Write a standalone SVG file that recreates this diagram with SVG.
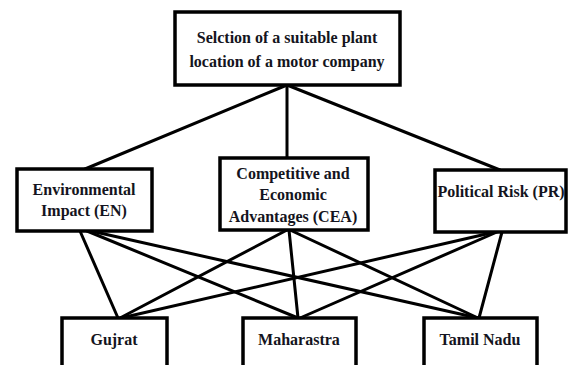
<svg xmlns="http://www.w3.org/2000/svg" width="571" height="365" viewBox="0 0 571 365">
<style>
.box{fill:#fff;stroke:#000;stroke-width:3.5}
.t{font-family:"Liberation Serif","Times New Roman",serif;font-weight:bold;font-size:16px;fill:#141420;text-anchor:middle}
.c line{stroke:#000;stroke-width:3;stroke-linecap:round}
</style>
<rect width="571" height="365" fill="#fff"/>
<g id="connectors" class="c">
<line x1="287" y1="85" x2="85" y2="169"/>
<line x1="287" y1="85" x2="287" y2="158"/>
<line x1="287" y1="85" x2="500" y2="170"/>
<line x1="80" y1="231" x2="118" y2="318"/>
<line x1="87" y1="231" x2="298" y2="318"/>
<line x1="91" y1="231" x2="478" y2="318"/>
<line x1="287" y1="230" x2="120" y2="318"/>
<line x1="289" y1="230" x2="298" y2="318"/>
<line x1="290" y1="230" x2="478" y2="318"/>
<line x1="495" y1="232" x2="121" y2="318"/>
<line x1="497" y1="232" x2="300" y2="318"/>
<line x1="502" y1="232" x2="479" y2="318"/>
</g>
<g id="goal">
<rect class="box" x="175" y="12" width="225" height="73"/>
<text class="t" x="287" y="43">Selction of a suitable plant</text>
<text class="t" x="287" y="67">location of a motor company</text>
</g>
<g id="en">
<rect class="box" x="17" y="169" width="135" height="62"/>
<text class="t" x="84" y="195">Environmental</text>
<text class="t" x="84" y="216">Impact (EN)</text>
</g>
<g id="cea">
<rect class="box" x="220" y="158" width="148" height="72"/>
<text class="t" x="293" y="179">Competitive and</text>
<text class="t" x="293" y="200">Economic</text>
<text class="t" x="293" y="222">Advantages (CEA)</text>
</g>
<g id="pr">
<rect class="box" x="435" y="170" width="131" height="62"/>
<text class="t" x="501" y="197">Political Risk (PR)</text>
</g>
<g id="gujrat">
<rect class="box" x="62" y="318" width="105" height="60"/>
<text class="t" x="114" y="345">Gujrat</text>
</g>
<g id="maharastra">
<rect class="box" x="243" y="318" width="113" height="60"/>
<text class="t" x="299" y="345">Maharastra</text>
</g>
<g id="tamilnadu">
<rect class="box" x="424" y="318" width="113" height="60"/>
<text class="t" x="480" y="345">Tamil Nadu</text>
</g>
</svg>
